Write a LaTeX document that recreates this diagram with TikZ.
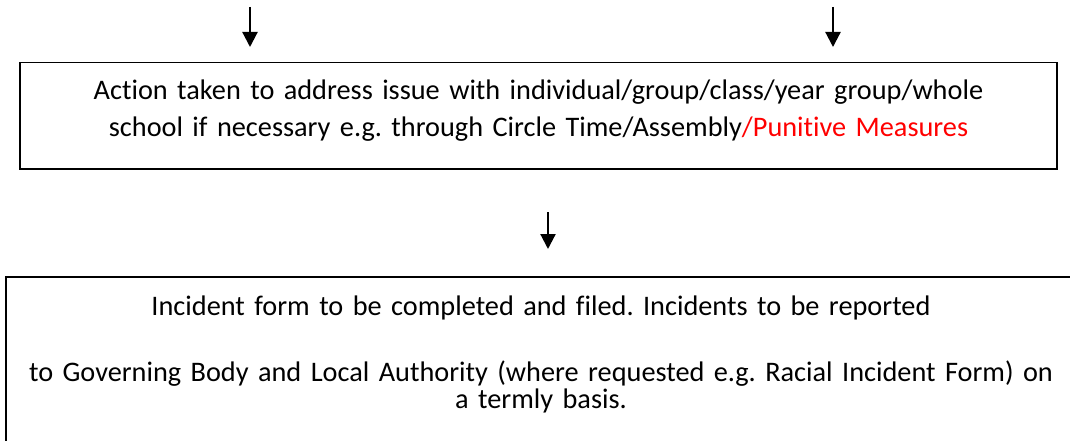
\documentclass[tikz,border=0pt]{standalone}
\usepackage{fontspec}
\setmainfont{Carlito}[Ligatures=NoCommon]
\usepackage{tikz}
\usetikzlibrary{arrows.meta,positioning}
\definecolor{flowred}{HTML}{FF0000}
\frenchspacing

\begin{document}
\begin{tikzpicture}[x=1pt,y=-1pt,
    flowbox/.style={draw=black, line width=1.5pt, inner xsep=0pt, inner ysep=0pt, align=center},
    flowarrow/.style={line width=2.2pt, -{Triangle[length=15pt,width=15pt]}}]
  \useasboundingbox (0,0) rectangle (1070,441);
  \clip (0,0) rectangle (1070,441);
  % action box
  \node[flowbox, anchor=north, minimum width=1037pt, text width=1037pt,
    font=\fontsize{28.3}{37}\selectfont] (action) at (538.5,62) {%
    \rule{0pt}{37pt}Action taken to address issue with individual/group/class/year group/whole\\
    school if necessary e.g. through Circle Time/Assembly{\color{flowred}/Punitive Measures}\rule[-32pt]{0pt}{0pt}};
  % incident box
  \node[flowbox, anchor=north, minimum width=1070pt, text width=1070pt,
    font=\fontsize{28.3}{27}\selectfont] (incident) at (541,276) {%
    \rule{0pt}{39pt}Incident form to be completed and filed. Incidents to be reported\\[39pt]
    to Governing Body and Local Authority (where requested e.g. Racial Incident Form) on\\
    a termly basis.\rule[-60pt]{0pt}{0pt}};
  % arrows
  \coordinate (inA) at (250,7);
  \coordinate (inAend) at (250,47);
  \coordinate (inB) at (833,7);
  \coordinate (inBend) at (833,47);
  \coordinate (outC) at (548,212);
  \coordinate (outCend) at (548,249);
  \draw[flowarrow] (inA) -- (inAend);
  \draw[flowarrow] (inB) -- (inBend);
  \draw[flowarrow] (outC) -- (outCend);
\end{tikzpicture}
\end{document}
